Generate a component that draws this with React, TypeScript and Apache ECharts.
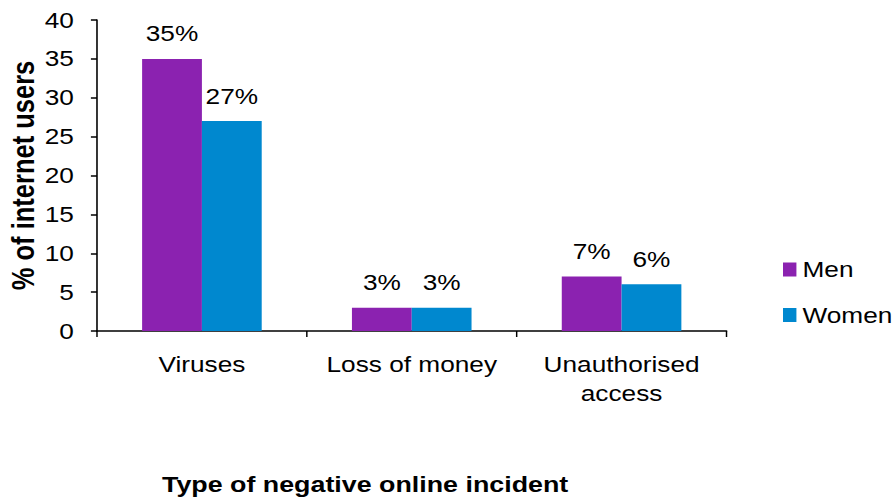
import React, { useEffect, useRef } from "react";
import * as echarts from "echarts";

const categories = ["Viruses", "Loss of money", "Unauthorised\naccess"];
const menValues = [35, 3, 7];
const womenValues = [27, 3, 6];
const seriesNames = ["Men", "Women"];
const yTitle = "% of internet users";
const xTitle = "Type of negative online incident";

const FONT = "'Liberation Sans', Arial, sans-serif";
const PURPLE = "#8B22B0";
const BLUE = "#0088CF";

// the reference is horizontally stretched; draw in a narrower box and stretch it
const SX = 1.22;
const W = 896;
const H = 501;
const LW = W / SX;

export default function App() {
  const ref = useRef<HTMLDivElement>(null);
  useEffect(() => {
    if (!ref.current) return;
    const chart = echarts.init(ref.current, undefined, { renderer: "svg" });
    const labelStyle = {
      show: true,
      position: "top" as const,
      distance: 14,
      formatter: "{c}%",
      fontFamily: FONT,
      fontSize: 21.5,
      color: "#000",
    };
    chart.setOption({
      animation: false,
      backgroundColor: "#fff",
      textStyle: { fontFamily: FONT },
      grid: {
        left: 97 / SX,
        right: LW - 727 / SX,
        top: 20,
        bottom: H - 331,
        containLabel: false,
        outerBoundsMode: "none",
      },
      legend: {
        orient: "vertical",
        left: 783 / SX,
        top: 258.5,
        padding: 0,
        itemWidth: 11,
        itemHeight: 14,
        itemGap: 23.5,
        icon: "rect",
        data: seriesNames,
        textStyle: { fontFamily: FONT, fontSize: 21.5, lineHeight: 22, color: "#000" },
      },
      xAxis: {
        type: "category",
        data: categories,
        axisLine: { show: true, lineStyle: { color: "#000", width: 1.5 } },
        axisTick: { show: true, inside: false, length: 6, alignWithLabel: false, lineStyle: { color: "#000", width: 1.2 } },
        axisLabel: { fontFamily: FONT, fontSize: 21.5, color: "#000", margin: 19, lineHeight: 29, interval: 0 },
        splitLine: { show: false },
      },
      yAxis: {
        type: "value",
        min: 0,
        max: 40,
        interval: 5,
        name: yTitle,
        nameLocation: "middle",
        nameRotate: 90,
        nameGap: 48,
        nameMoveOverlap: false,
        nameTextStyle: { fontFamily: FONT, fontSize: 25.5, fontWeight: "bold", color: "#000" },
        axisLine: { show: true, lineStyle: { color: "#000", width: 1.3 } },
        axisTick: { show: true, inside: false, length: 5, lineStyle: { color: "#000", width: 1.5 } },
        axisLabel: { fontFamily: FONT, fontSize: 21.5, color: "#000", margin: 19 },
        splitLine: { show: false },
      },
      graphic: [
        {
          type: "text",
          x: 162 / SX,
          y: 484,
          style: {
            text: xTitle,
            fontFamily: FONT,
            fontSize: 22,
            fontWeight: "bold",
            fill: "#000",
            align: "left",
            verticalAlign: "middle",
          },
        },
      ],
      series: [
        {
          name: seriesNames[0],
          type: "bar",
          data: menValues,
          barGap: "0%",
          barCategoryGap: "43%",
          itemStyle: { color: PURPLE },
          label: labelStyle,
        },
        {
          name: seriesNames[1],
          type: "bar",
          data: womenValues,
          barGap: "0%",
          barCategoryGap: "43%",
          itemStyle: { color: BLUE },
          label: labelStyle,
        },
      ],
    });
    return () => chart.dispose();
  }, []);
  return (
    <div
      style={{ position: "fixed", left: 0, top: 0, width: W, height: H, background: "#fff", overflow: "hidden" }}
    >
      <div
        ref={ref}
        style={{
          width: LW,
          height: H,
          transform: `scaleX(${SX})`,
          transformOrigin: "0 0",
        }}
      />
    </div>
  );
}
